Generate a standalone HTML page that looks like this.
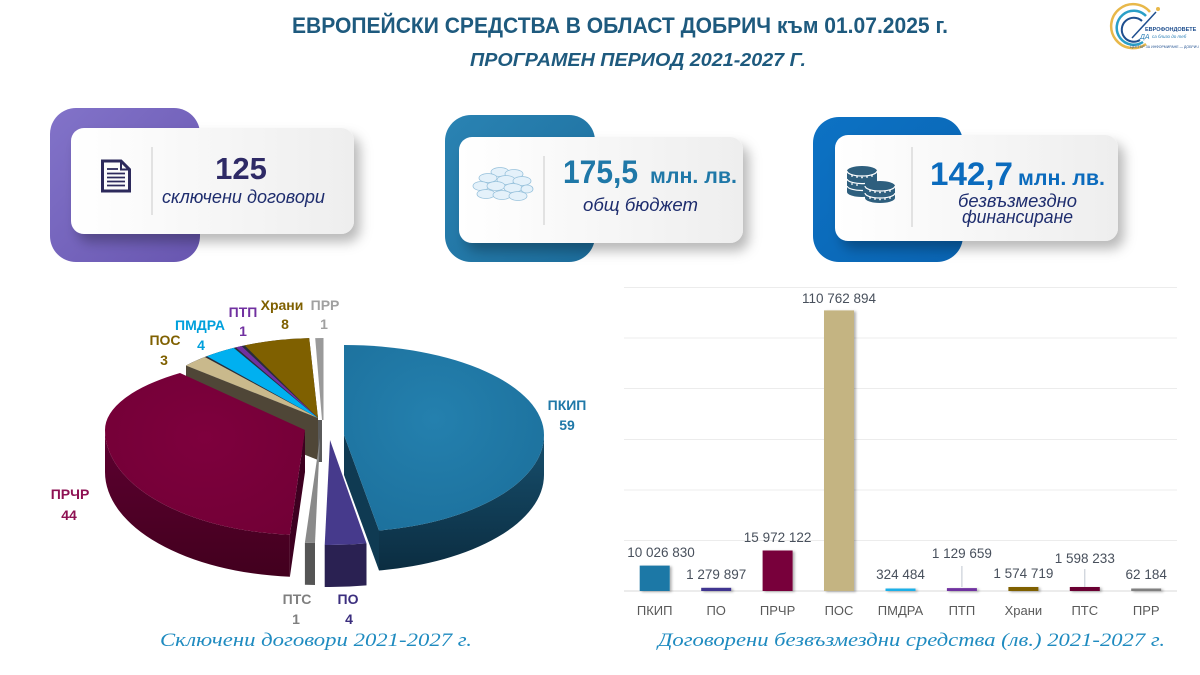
<!DOCTYPE html>
<html><head><meta charset="utf-8">
<style>
html,body{margin:0;padding:0;background:#fff;}
svg{display:block;}
text{font-family:"Liberation Sans","DejaVu Sans",sans-serif;}
.serif{font-family:"Liberation Serif","DejaVu Serif",serif;}
</style></head>
<body>
<svg width="1200" height="675" viewBox="0 0 1200 675" xmlns="http://www.w3.org/2000/svg">
<defs>
  <linearGradient id="gp" x1="0" y1="0" x2="1" y2="1">
    <stop offset="0" stop-color="#8273c9"/><stop offset="1" stop-color="#6856b0"/>
  </linearGradient>
  <linearGradient id="gb2" x1="0" y1="0" x2="1" y2="1">
    <stop offset="0" stop-color="#2a83b3"/><stop offset="1" stop-color="#1c6d9c"/>
  </linearGradient>
  <linearGradient id="gb3" x1="0" y1="0" x2="1" y2="1">
    <stop offset="0" stop-color="#0d72c4"/><stop offset="1" stop-color="#0964b2"/>
  </linearGradient>
  <linearGradient id="gw" x1="0" y1="0" x2="1" y2="0">
    <stop offset="0" stop-color="#ffffff"/><stop offset="1" stop-color="#eeeeee"/>
  </linearGradient>
  <filter id="sh" x="-20%" y="-30%" width="150%" height="180%">
    <feDropShadow dx="6" dy="8" stdDeviation="6" flood-color="#000" flood-opacity="0.28"/>
  </filter>
  <filter id="bs" x="-30%" y="-10%" width="160%" height="130%">
    <feDropShadow dx="2" dy="1" stdDeviation="1.2" flood-color="#000" flood-opacity="0.3"/>
  </filter>
  <linearGradient id="pkside" x1="0" y1="0" x2="0" y2="1">
    <stop offset="0" stop-color="#174f6d"/><stop offset="1" stop-color="#0b2d41"/>
  </linearGradient>
  <linearGradient id="prside" x1="0" y1="0" x2="0" y2="1">
    <stop offset="0" stop-color="#6a0536"/><stop offset="0.15" stop-color="#5a002e"/><stop offset="1" stop-color="#42001e"/>
  </linearGradient>
  <radialGradient id="pktop" cx="0.45" cy="0.4" r="0.7">
    <stop offset="0" stop-color="#2480ae"/><stop offset="1" stop-color="#1c709c"/>
  </radialGradient>
  <radialGradient id="prtop" cx="0.5" cy="0.4" r="0.7">
    <stop offset="0" stop-color="#7e003d"/><stop offset="1" stop-color="#720036"/>
  </radialGradient>
</defs>

<!-- Title -->
<text x="292" y="33" font-size="22" font-weight="bold" fill="#1e5a7e" textLength="656" lengthAdjust="spacingAndGlyphs">ЕВРОПЕЙСКИ СРЕДСТВА В ОБЛАСТ ДОБРИЧ към 01.07.2025 г.</text>
<text x="470" y="66" font-size="18" font-weight="bold" font-style="italic" fill="#1e5a7e" textLength="336" lengthAdjust="spacingAndGlyphs">ПРОГРАМЕН ПЕРИОД  2021-2027 Г.</text>

<!-- Logo -->
<g>
  <path d="M1150,12 A22,22 0 1 0 1146,44" fill="none" stroke="#e8b84a" stroke-width="2.5"/>
  <path d="M1146,16 A17,17 0 1 0 1143,42" fill="none" stroke="#2a9fc7" stroke-width="2.5"/>
  <path d="M1142,21 A12,12 0 1 0 1140,40" fill="none" stroke="#1f4f8f" stroke-width="2"/>
  <line x1="1132" y1="38" x2="1156" y2="12" stroke="#1f4f8f" stroke-width="1.5"/>
  <circle cx="1158" cy="9" r="2" fill="#e8b84a"/>
  <text x="1145" y="31" font-size="5.5" font-weight="bold" fill="#1f4f8f">ЕВРОФОНДОВЕТЕ</text>
  <text x="1140" y="39" font-size="7" font-style="italic" fill="#2a7fb7">ДА</text>
  <text x="1152" y="38" font-size="4.5" font-style="italic" fill="#2a7fb7">са близо до теб</text>
  <text x="1130" y="48" font-size="3.5" fill="#1f4f8f">ЦЕНТЪР ЗА ИНФОРМИРАНЕ — ДОБРИЧ</text>
</g>

<!-- Card 1 -->
<rect x="50" y="108" width="150" height="154" rx="26" fill="url(#gp)"/>
<rect x="71" y="128" width="283" height="106" rx="13" fill="url(#gw)" filter="url(#sh)"/>
<line x1="152" y1="147" x2="152" y2="215" stroke="#d2d2d2" stroke-width="1.2"/>
<g stroke="#2d2a5c" fill="none">
  <path d="M102.5,161 H121 L129.5,169.5 V191 H102.5 Z" stroke-width="3" stroke-linejoin="miter"/>
  <path d="M121,161 V169.5 H129.5" stroke-width="2"/>
  <g stroke-width="1.8">
    <line x1="107" y1="169" x2="118" y2="169"/>
    <line x1="107" y1="173.5" x2="125" y2="173.5"/>
    <line x1="107" y1="177.5" x2="125" y2="177.5"/>
    <line x1="107" y1="181.5" x2="125" y2="181.5"/>
    <line x1="107" y1="185.5" x2="125" y2="185.5"/>
  </g>
</g>
<text x="241" y="179" font-size="31" font-weight="bold" fill="#2e2a66" text-anchor="middle">125</text>
<text x="162" y="203" font-size="18" font-style="italic" fill="#1e2d6e" textLength="163" lengthAdjust="spacingAndGlyphs">сключени договори</text>

<!-- Card 2 -->
<rect x="445" y="115" width="150" height="147" rx="26" fill="url(#gb2)"/>
<rect x="459" y="137" width="284" height="106" rx="13" fill="url(#gw)" filter="url(#sh)"/>
<line x1="544" y1="156" x2="544" y2="225" stroke="#d2d2d2" stroke-width="1.2"/>
<g fill="#e4f1fa" stroke="#98c2dc" stroke-width="0.8">
  <ellipse cx="500" cy="172" rx="9" ry="4.5"/>
  <ellipse cx="514" cy="174" rx="9" ry="4.5"/>
  <ellipse cx="488" cy="178" rx="9" ry="4.5"/>
  <ellipse cx="506" cy="180" rx="9" ry="4.5"/>
  <ellipse cx="522" cy="181" rx="9" ry="4.5"/>
  <ellipse cx="481" cy="186" rx="8" ry="4.5"/>
  <ellipse cx="496" cy="186" rx="9" ry="4.5"/>
  <ellipse cx="513" cy="188" rx="9" ry="4.5"/>
  <ellipse cx="527" cy="189" rx="6" ry="4"/>
  <ellipse cx="486" cy="194" rx="9" ry="4.5"/>
  <ellipse cx="502" cy="195" rx="9" ry="4.5"/>
  <ellipse cx="518" cy="196" rx="9" ry="4.5"/>
</g>
<text x="563" y="183" font-size="32" font-weight="bold" fill="#1f78a8" textLength="75" lengthAdjust="spacingAndGlyphs">175,5</text>
<text x="650" y="183" font-size="21" font-weight="bold" fill="#1f78a8" textLength="87" lengthAdjust="spacingAndGlyphs">млн. лв.</text>
<text x="583" y="211" font-size="18" font-style="italic" fill="#1e2d6e" textLength="115" lengthAdjust="spacingAndGlyphs">общ бюджет</text>

<!-- Card 3 -->
<rect x="813" y="117" width="150" height="145" rx="26" fill="url(#gb3)"/>
<rect x="835" y="135" width="283" height="106" rx="13" fill="url(#gw)" filter="url(#sh)"/>
<line x1="912" y1="147" x2="912" y2="227" stroke="#d2d2d2" stroke-width="1.2"/>
<g fill="#2e5f7e">
  <path d="M847,171 A15,5 0 0 1 877,171 V192 A15,5 0 0 1 847,192 Z"/>
  <path d="M865,186 A15,5 0 0 1 895,186 V198 A15,5 0 0 1 865,198 Z"/>
</g>
<g fill="none" stroke="#ffffff" stroke-width="1.2">
  <path d="M847,171 A15,5 0 0 0 877,171"/>
  <path d="M847,179 A15,5 0 0 0 865,183.5"/>
  <path d="M847,186 A15,5 0 0 0 863,190.5"/>
  <path d="M865,186 A15,5 0 0 0 895,186"/>
  <path d="M865,193 A15,5 0 0 0 895,193"/>
</g>
<g fill="#ffffff">
  <circle cx="852" cy="176" r="0.9"/><circle cx="857" cy="177" r="0.9"/><circle cx="862" cy="177.5" r="0.9"/><circle cx="867" cy="177" r="0.9"/><circle cx="872" cy="176" r="0.9"/>
  <circle cx="852" cy="184" r="0.9"/><circle cx="857" cy="185" r="0.9"/>
  <circle cx="870" cy="191" r="0.9"/><circle cx="875" cy="192" r="0.9"/><circle cx="880" cy="192.5" r="0.9"/><circle cx="885" cy="192" r="0.9"/><circle cx="890" cy="191" r="0.9"/>
  <circle cx="870" cy="198" r="0.9"/><circle cx="875" cy="199" r="0.9"/><circle cx="880" cy="199.5" r="0.9"/><circle cx="885" cy="199" r="0.9"/><circle cx="890" cy="198" r="0.9"/>
</g>
<text x="930" y="185" font-size="32" font-weight="bold" fill="#0b6bbd" textLength="83" lengthAdjust="spacingAndGlyphs">142,7</text>
<text x="1018" y="185" font-size="21" font-weight="bold" fill="#0b6bbd" textLength="87" lengthAdjust="spacingAndGlyphs">млн. лв.</text>
<text x="958" y="207" font-size="18" font-style="italic" fill="#1e2d6e" textLength="119" lengthAdjust="spacingAndGlyphs">безвъзмездно</text>
<text x="962" y="223" font-size="18" font-style="italic" fill="#1e2d6e" textLength="111" lengthAdjust="spacingAndGlyphs">финансиране</text>

<!-- ===== PIE ===== -->
<!-- back small slices -->
<path d="M318,418 L186,365.5 L186,407.5 L318,460 Z" fill="#4f4637"/>
<path d="M318,418 L186,365.5 A175,80 0 0 1 309.2,338.1 Z" fill="#2a2d3a"/>
<path d="M318,418 L244.6,345.4 A175,80 0 0 1 309.2,338.1 Z" fill="#7f6000"/>
<path d="M318,418 L235.8,347.4 A175,80 0 0 1 241.5,346 Z" fill="#7030a0"/>
<path d="M318,418 L206.9,356.2 A175,80 0 0 1 233.7,347.9 Z" fill="#00b0f0"/>
<path d="M318,418 L186,365.5 A175,80 0 0 1 204.8,357 Z" fill="#c9b98c"/>
<path d="M322,420 L315.2,338.1 A175,80 0 0 1 323.5,338 L323.5,420 Z" fill="#9a9a9a"/>
<path d="M318,420 L322,420 L322,462 L318,462 Z" fill="#5a5a5a"/>

<!-- PRCR -->
<path d="M305,430 L289.9,534.7 L289.9,576.7 L305,472 Z" fill="#3d0020"/>
<path d="M289.9,534.7 A200,105 0 0 1 105,430 L105,472 A200,105 0 0 0 289.9,576.7 Z" fill="url(#prside)"/>
<path d="M305,430 L289.9,534.7 A200,105 0 0 1 105,430 A200,73 0 0 1 180,373 Z" fill="url(#prtop)"/>

<!-- PKIP -->
<path d="M344,435 L379,530.5 L379,570.5 L344,475 Z" fill="#0f3a52"/>
<path d="M544,435 A200,97 0 0 1 379,530.5 L379,570.5 A200,97 0 0 0 544,475 Z" fill="url(#pkside)"/>
<path d="M344,435 L344,345 A200,90 0 0 1 544,435 A200,97 0 0 1 379,530.5 Z" fill="url(#pktop)"/>

<!-- PTS -->
<path d="M315,543 A200,105 0 0 1 304.9,542.7 L304.9,584.7 A200,105 0 0 0 315,585 Z" fill="#555555"/>
<path d="M320,438 L315,543 A200,105 0 0 1 304.9,542.7 Z" fill="#8a8a8a"/>

<!-- PO -->
<path d="M366.5,543.4 A210,105 0 0 1 324.7,545 L324.7,587 A210,105 0 0 0 366.5,585.4 Z" fill="#2a2152"/>
<path d="M330,440 L366.5,543.4 A210,105 0 0 1 324.7,545 Z" fill="#463a8c"/>

<!-- Pie labels -->
<g font-size="14" font-weight="bold" text-anchor="middle">
  <text x="567" y="410" fill="#1f78a8">ПКИП</text>
  <text x="567" y="430" fill="#1f78a8">59</text>
  <text x="70" y="499" fill="#8e1153">ПРЧР</text>
  <text x="69" y="520" fill="#8e1153">44</text>
  <text x="297" y="604" fill="#7f7f7f">ПТС</text>
  <text x="296" y="624" fill="#7f7f7f">1</text>
  <text x="348" y="604" fill="#3b2e7e">ПО</text>
  <text x="349" y="624" fill="#3b2e7e">4</text>
  <text x="165" y="345" fill="#7f6000">ПОС</text>
  <text x="164" y="365" fill="#7f6000">3</text>
  <text x="200" y="330" fill="#00a0dc">ПМДРА</text>
  <text x="201" y="350" fill="#00a0dc">4</text>
  <text x="243" y="317" fill="#7030a0">ПТП</text>
  <text x="243" y="336" fill="#7030a0">1</text>
  <text x="282" y="310" fill="#7f6000">Храни</text>
  <text x="285" y="329" fill="#7f6000">8</text>
  <text x="325" y="310" fill="#a0a0a0">ПРР</text>
  <text x="324" y="329" fill="#a0a0a0">1</text>
</g>

<!-- ===== BAR CHART ===== -->
<g stroke="#ececec" stroke-width="1">
  <line x1="624" y1="287.5" x2="1177" y2="287.5"/>
  <line x1="624" y1="338" x2="1177" y2="338"/>
  <line x1="624" y1="388.5" x2="1177" y2="388.5"/>
  <line x1="624" y1="439.5" x2="1177" y2="439.5"/>
  <line x1="624" y1="490" x2="1177" y2="490"/>
  <line x1="624" y1="540.5" x2="1177" y2="540.5"/>
</g>
<line x1="624" y1="591" x2="1177" y2="591" stroke="#d9d9d9" stroke-width="1"/>

<g filter="url(#bs)">
  <rect x="639.7" y="565.6" width="30" height="25.4" fill="#1f78a6"/>
  <rect x="701.2" y="587.8" width="30" height="3.2" fill="#3f3590"/>
  <rect x="762.6" y="550.5" width="30" height="40.5" fill="#78003a"/>
  <rect x="824" y="310.4" width="30" height="280.6" fill="#c4b482"/>
  <rect x="885.5" y="588.5" width="30" height="2.5" fill="#1ab0e8"/>
  <rect x="946.9" y="588.1" width="30" height="2.9" fill="#7030a0"/>
  <rect x="1008.4" y="587" width="30" height="4" fill="#7f6000"/>
  <rect x="1069.8" y="587" width="30" height="4" fill="#6b0030"/>
  <rect x="1131.2" y="588.5" width="30" height="2.5" fill="#808080"/>
</g>
<g stroke="#bfc6d0" stroke-width="1">
  <line x1="961.9" y1="566" x2="961.9" y2="587"/>
  <line x1="1084.8" y1="569" x2="1084.8" y2="587"/>
</g>

<g font-size="13.5" fill="#48505c" text-anchor="middle">
  <text x="661" y="557">10 026 830</text>
  <text x="716.2" y="579">1 279 897</text>
  <text x="777.6" y="542">15 972 122</text>
  <text x="839" y="303">110 762 894</text>
  <text x="900.5" y="579">324 484</text>
  <text x="961.9" y="558">1 129 659</text>
  <text x="1023.4" y="578">1 574 719</text>
  <text x="1084.8" y="563">1 598 233</text>
  <text x="1146.2" y="579">62 184</text>
</g>
<g font-size="13" fill="#595959" text-anchor="middle">
  <text x="654.7" y="615">ПКИП</text>
  <text x="716.2" y="615">ПО</text>
  <text x="777.6" y="615">ПРЧР</text>
  <text x="839" y="615">ПОС</text>
  <text x="900.5" y="615">ПМДРА</text>
  <text x="961.9" y="615">ПТП</text>
  <text x="1023.4" y="615">Храни</text>
  <text x="1084.8" y="615">ПТС</text>
  <text x="1146.2" y="615">ПРР</text>
</g>

<!-- Captions -->
<text class="serif" x="160" y="646" font-size="19" font-style="italic" fill="#1f8bc0" textLength="312" lengthAdjust="spacingAndGlyphs">Сключени договори 2021-2027 г.</text>
<text class="serif" x="658" y="646" font-size="19" font-style="italic" fill="#1f8bc0" textLength="507" lengthAdjust="spacingAndGlyphs">Договорени безвъзмездни средства (лв.)  2021-2027 г.</text>
</svg>
</body></html>
